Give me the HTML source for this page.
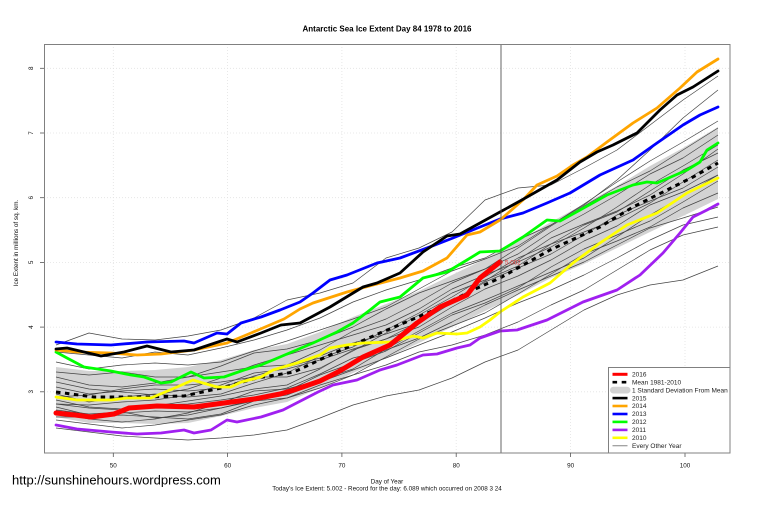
<!DOCTYPE html>
<html><head><meta charset="utf-8"><style>
html,body{margin:0;padding:0;background:#fff;}
svg{display:block;}
text{font-family:"Liberation Sans",Arial,sans-serif;}
</style></head><body>
<svg width="759" height="506" viewBox="0 0 759 506" xmlns="http://www.w3.org/2000/svg">
<rect x="0" y="0" width="759" height="506" fill="#fff"/>
<!-- title -->
<text x="387" y="31.5" font-size="8" font-weight="bold" text-anchor="middle" fill="#000">Antarctic Sea Ice Extent Day 84 1978 to 2016</text>
<!-- grid -->
<g stroke="#e2e2e2" stroke-width="0.8" stroke-dasharray="1 2" fill="none">
<line x1="113.3" y1="44" x2="113.3" y2="453"/><line x1="227.6" y1="44" x2="227.6" y2="453"/><line x1="341.9" y1="44" x2="341.9" y2="453"/><line x1="456.2" y1="44" x2="456.2" y2="453"/><line x1="570.6" y1="44" x2="570.6" y2="453"/><line x1="685" y1="44" x2="685" y2="453"/>
<line x1="44" y1="68.3" x2="730" y2="68.3"/><line x1="44" y1="133" x2="730" y2="133"/><line x1="44" y1="197.7" x2="730" y2="197.7"/><line x1="44" y1="262.4" x2="730" y2="262.4"/><line x1="44" y1="327.1" x2="730" y2="327.1"/><line x1="44" y1="391.8" x2="730" y2="391.8"/>
</g>
<!-- SD band -->
<polygon fill="#d3d3d3" stroke="none" points="56,367 89,371 122,371 155,370 188,367 221,360 254,350 287,344 320,332 353,317 386,304 419,291 452,275 485,259 518,241 551,222 584,204 617,186 650,166 683,148 718,127 718,199 683,216 650,232 617,248 584,264 551,278 518,295 485,311 452,327 419,343 386,358 353,373 320,388 287,402 254,408 221,416 188,423 155,424 122,423 89,423 56,417"/>
<!-- gray every other year lines -->
<g fill="none" stroke="#444" stroke-width="0.7" stroke-linejoin="round">
<polyline points="56,377 89,385 122,387 155,383 188,377 221,372 254,367 287,365 320,350 353,331 386,319 419,302 452,283 485,269 518,254 551,232 584,214 617,195 650,174 683,158 718,135"/>
<polyline points="56,400 89,407 122,409 155,406 188,401 221,396 254,389 287,385 320,369 353,350 386,339 419,327 452,307 485,289 518,276 551,260 584,241 617,226 650,205 683,192 718,175"/>
<polyline points="56,387 89,394 122,391 155,389 188,391 221,388 254,376 287,367 320,358 353,347 386,330 419,313 452,293 485,280 518,266 551,244 584,225 617,212 650,191 683,170 718,153"/>
<polyline points="56,407 89,415 122,413 155,411 188,412 221,408 254,401 287,391 320,375 353,363 386,351 419,333 452,315 485,303 518,288 551,267 584,249 617,235 650,221 683,202 718,181"/>
<polyline points="56,372 89,375 122,372 155,377 188,377 221,366 254,353 287,349 320,340 353,327 386,309 419,293 452,281 485,269 518,248 551,226 584,206 617,187 650,171 683,150 718,128"/>
<polyline points="56,394 89,402 122,397 155,394 188,397 221,394 254,383 287,373 320,356 353,343 386,334 419,323 452,303 485,282 518,268 551,254 584,235 617,215 650,201 683,188 718,167"/>
<polyline points="56,412 89,419 122,422 155,419 188,413 221,403 254,391 287,389 320,380 353,369 386,349 419,331 452,313 485,300 518,286 551,272 584,258 617,237 650,215 683,196 718,175"/>
<polyline points="56,382 89,389 122,392 155,395 188,389 221,378 254,365 287,355 320,345 353,335 386,325 419,309 452,289 485,275 518,262 551,247 584,228 617,207 650,185 683,166 718,145"/>
<polyline points="56,404 89,405 122,402 155,400 188,395 221,385 254,373 287,369 320,360 353,349 386,339 419,322 452,301 485,281 518,260 551,238 584,224 617,211 650,195 683,174 718,149"/>
<polyline points="56,362 89,369 122,365 155,363 188,365 221,362 254,351 287,341 320,330 353,319 386,307 419,289 452,271 485,259 518,246 551,225 584,204 617,182 650,161 683,142 718,121"/>
<polyline points="56,417 89,417 122,415 155,417 188,419 221,414 254,401 287,398 320,388 353,375 386,357 419,339 452,326 485,313 518,294 551,274 584,254 617,241 650,227 683,208 718,193"/>
<polyline points="56,397 89,395 122,389 155,385 188,385 221,382 254,377 287,377 320,368 353,351 386,333 419,315 452,297 485,277 518,258 551,244 584,232 617,219 650,203 683,182 718,160"/>
<polyline points="56,345 89,333 122,339 155,340 188,336 221,330 254,318 287,300 320,293 353,283 386,258 419,248 452,232 485,200 518,188 551,185 584,168 617,150 650,125 683,100 718,76"/>
<polyline points="56,352 89,355 122,358 155,352 188,355 221,348 254,340 287,330 320,318 353,302 386,290 419,280 452,268 485,258 518,240 551,225 584,205 617,180 650,150 683,118 718,90"/>
<polyline points="56,428 89,432 122,436 155,438 188,440 221,438 254,435 287,430 320,418 353,405 386,396 419,390 452,378 485,362 518,350 551,330 584,310 617,295 650,285 683,280 718,266"/>
<polyline points="56,420 89,424 122,428 155,425 188,420 221,415 254,405 287,398 320,385 353,375 386,365 419,352 452,345 485,335 518,322 551,305 584,290 617,270 650,250 683,235 718,227"/>
<polyline points="56,410 89,414 122,412 155,418 188,415 221,408 254,400 287,395 320,382 353,370 386,358 419,345 452,332 485,318 518,303 551,290 584,275 617,258 650,240 683,225 718,217"/>
<polyline points="56,404 89,408 122,410 155,405 188,404 221,400 254,395 287,388 320,374 353,358 386,350 419,338 452,322 485,305 518,290 551,276 584,262 617,245 650,228 683,218 718,207"/>
</g>
<!-- mean -->
<polyline fill="none" stroke="#000" stroke-width="3" stroke-dasharray="4.5 4.5" points="56,392 94,397 144,397 184,396 221,388 257,378 294,372 330,355 380,333 430,312 473,290 500,278 550,250 600,227 633,207 667,190 693,177 718,163"/>
<!-- colored years -->
<g fill="none" stroke-width="2.8" stroke-linejoin="round" stroke-linecap="round">
<polyline stroke="#ffff00" points="56,397 77,400 111,400 127,398 151,398 177,387 193,380 203,383 217,387 231,387 241,382 261,377 273,370 297,363 320,355 330,348 347,345 363,343 390,342 413,336 423,338 437,333 457,334 467,333 480,327 490,320 500,312 523,297 550,283 573,263 600,243 627,225 657,213 687,193 718,178"/>
<polyline stroke="#a020f0" points="56,425 77,429 111,432 137,434 161,433 184,430 194,433 211,430 227,420 237,422 261,417 283,410 318,392 333,385 357,380 380,370 397,365 423,355 437,354 457,348 470,345 480,338 500,331 517,330 547,320 583,302 617,290 640,275 663,253 680,233 693,217 707,210 718,204"/>
<polyline stroke="#00ff00" points="56,352 67,358 84,367 111,371 131,375 144,377 161,383 171,382 191,372 204,378 224,377 244,370 261,365 280,357 313,343 337,332 353,323 370,310 380,302 400,297 423,278 447,272 467,260 480,252 500,251 523,237 547,220 560,221 580,210 607,195 633,185 647,182 657,183 687,170 700,162 707,150 718,143"/>
<polyline stroke="#0000ff" points="56,342 77,344 111,345 147,342 184,341 194,343 217,333 227,334 241,323 261,317 280,310 300,302 313,293 330,280 347,275 377,263 400,258 427,248 453,238 480,227 500,219 523,213 547,203 570,193 600,175 633,160 657,143 683,125 700,115 718,107"/>
<polyline stroke="#ffa500" points="56,350 77,352 111,353 137,355 161,354 194,350 227,343 251,333 284,319 300,309 313,303 347,292 373,285 400,278 423,271 447,258 467,235 480,232 500,220 523,200 537,185 557,176 573,165 587,157 607,142 633,123 657,108 680,88 697,72 718,59"/>
<polyline stroke="#000000" points="56,349 67,348 84,352 101,356 124,352 147,346 171,352 194,350 227,339 237,342 261,333 281,325 300,323 330,307 363,287 377,283 400,273 423,252 447,236 460,234 480,223 500,212 520,201 557,180 580,162 597,152 613,145 637,133 660,110 677,95 693,87 718,71"/>
</g>
<!-- 2016 -->
<polyline fill="none" stroke="#ff0000" stroke-width="5" stroke-linejoin="round" stroke-linecap="round" points="56,413 75,415 91,417 114,414 129,408 157,406 194,407 224,403 254,399 280,394 294,390 320,381 338,372 363,357 390,345 417,323 440,307 467,295 480,278 500,262"/>
<circle cx="500.5" cy="262" r="2" fill="#ff0000"/>
<text x="505" y="264.5" font-size="6.3" fill="#e23a3a">5.002</text>
<!-- day 84 line -->
<line x1="501" y1="44" x2="501" y2="453" stroke="#555" stroke-width="0.9"/>
<!-- frame -->
<rect x="44.5" y="44.5" width="685.5" height="408.5" fill="none" stroke="#808080" stroke-width="1"/>
<!-- ticks -->
<g stroke="#555" stroke-width="0.8">
<line x1="40" y1="68.3" x2="44" y2="68.3"/><line x1="40" y1="133" x2="44" y2="133"/><line x1="40" y1="197.7" x2="44" y2="197.7"/><line x1="40" y1="262.4" x2="44" y2="262.4"/><line x1="40" y1="327.1" x2="44" y2="327.1"/><line x1="40" y1="391.8" x2="44" y2="391.8"/>
<line x1="113.3" y1="453" x2="113.3" y2="457"/><line x1="227.6" y1="453" x2="227.6" y2="457"/><line x1="341.9" y1="453" x2="341.9" y2="457"/><line x1="456.2" y1="453" x2="456.2" y2="457"/><line x1="570.6" y1="453" x2="570.6" y2="457"/><line x1="685" y1="453" x2="685" y2="457"/>
</g>
<g font-size="6.3" fill="#111" text-anchor="middle">
<text transform="translate(33,68.3) rotate(-90)">8</text>
<text transform="translate(33,133) rotate(-90)">7</text>
<text transform="translate(33,197.7) rotate(-90)">6</text>
<text transform="translate(33,262.4) rotate(-90)">5</text>
<text transform="translate(33,327.1) rotate(-90)">4</text>
<text transform="translate(33,391.8) rotate(-90)">3</text>
<text x="113.3" y="467.5">50</text>
<text x="227.6" y="467.5">60</text>
<text x="341.9" y="467.5">70</text>
<text x="456.2" y="467.5">80</text>
<text x="570.6" y="467.5">90</text>
<text x="685" y="467.5">100</text>
<text transform="translate(18,243) rotate(-90)">Ice Extent in millions of sq. km.</text>
<text x="387" y="483.7">Day of Year</text>
<text x="387" y="490.7">Today's Ice Extent: 5.002  - Record for the day: 6.089 which occurred on 2008 3 24</text>
</g>
<text x="12" y="484.5" font-size="13" fill="#000">http://sunshinehours.wordpress.com</text>
<!-- legend -->
<rect x="608.5" y="367.5" width="121.5" height="85.5" fill="#fff" stroke="#808080" stroke-width="1"/>
<g stroke-width="2.6" fill="none">
<line x1="612.5" y1="374.3" x2="627.5" y2="374.3" stroke="#ff0000" stroke-width="3"/>
<line x1="612.5" y1="382.2" x2="627.5" y2="382.2" stroke="#000" stroke-width="2.6" stroke-dasharray="4.6 4.6"/>
<line x1="612.5" y1="398.1" x2="627.5" y2="398.1" stroke="#000"/>
<line x1="612.5" y1="406" x2="627.5" y2="406" stroke="#ffa500"/>
<line x1="612.5" y1="414" x2="627.5" y2="414" stroke="#0000ff"/>
<line x1="612.5" y1="421.9" x2="627.5" y2="421.9" stroke="#00ff00"/>
<line x1="612.5" y1="429.9" x2="627.5" y2="429.9" stroke="#a020f0"/>
<line x1="612.5" y1="437.8" x2="627.5" y2="437.8" stroke="#ffff00"/>
<line x1="612.5" y1="445.8" x2="627.5" y2="445.8" stroke="#666" stroke-width="0.8"/>
</g>
<rect x="610" y="386.7" width="20.5" height="6.8" rx="3.4" fill="#d3d3d3"/>
<g font-size="6.5" fill="#222">
<text x="632" y="376.5">2016</text>
<text x="632" y="384.4">Mean 1981-2010</text>
<text x="632" y="392.4">1 Standard Deviation From Mean</text>
<text x="632" y="400.3">2015</text>
<text x="632" y="408.2">2014</text>
<text x="632" y="416.2">2013</text>
<text x="632" y="424.1">2012</text>
<text x="632" y="432.1">2011</text>
<text x="632" y="440">2010</text>
<text x="632" y="448">Every Other Year</text>
</g>
</svg>
</body></html>
